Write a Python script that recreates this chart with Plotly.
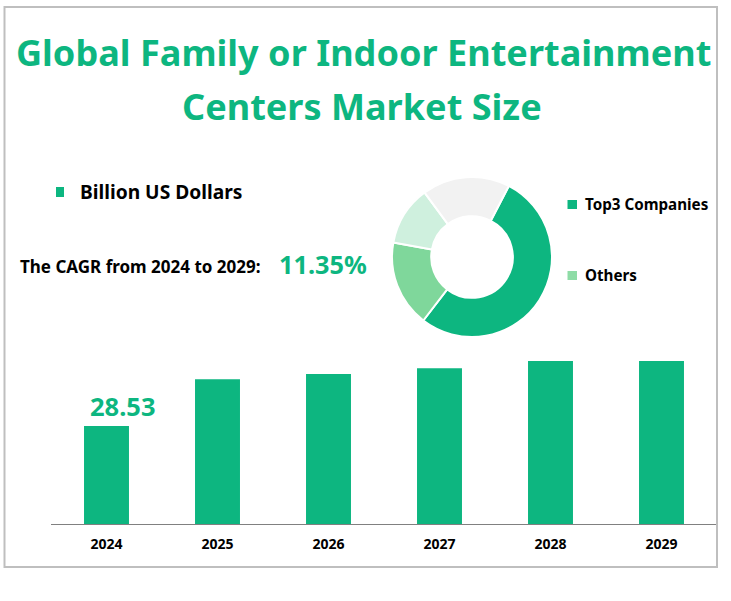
import plotly.graph_objects as go

W, H = 731, 601
GREEN = "#0DB680"
FONT = "Noto Sans"

years = ["2024", "2025", "2026", "2027", "2028", "2029"]
market_size = [28.53, 42.2, 43.7, 45.4, 47.5, 47.5]
share_labels = ["Top3 Companies", "Others", "Company C", "Company D"]
share_values = [52.8, 17.5, 12.0, 17.7]
share_colors = [GREEN, "#7FD79B", "#CFF0DE", "#F2F2F2"]
title_lines = ["Global Family or Indoor Entertainment", "Centers Market Size"]
series_name = "Billion US Dollars"
cagr_label = "The CAGR from 2024 to 2029:"
cagr_value = "11.35%"
watermark = "\u2002".join("贝哲斯咨询")
watermark_spots = [(211, 60), (536, 60), (206, 296), (536, 296), (204, 535), (529, 535)]


def px(x):
    return x / W


def py(y):
    return 1 - y / H


fig = go.Figure()
fig.add_trace(go.Bar(x=years, y=market_size, width=0.405, marker=dict(color=GREEN, line=dict(width=0)),
                     hoverinfo="x+y", showlegend=False))
fig.add_trace(go.Pie(labels=share_labels, values=share_values, hole=0.51, sort=False, direction="clockwise",
                     rotation=27.4, textinfo="none", showlegend=False,
                     marker=dict(colors=share_colors, line=dict(color="white", width=2)),
                     domain=dict(x=[px(392), px(552)], y=[py(337), py(177)])))


def note(text, x, y, size, color="black", bold=True, anchor="left"):
    fig.add_annotation(text=f"<b>{text}</b>" if bold else text, x=px(x), y=py(y), xref="paper", yref="paper",
                       showarrow=False, xanchor=anchor, yanchor="middle", align="center",
                       font=dict(family=FONT, size=size, color=color))


for wx, wy in watermark_spots:
    fig.add_annotation(text=watermark, x=px(wx), y=py(wy), xref="paper", yref="paper", showarrow=False,
                       xanchor="center", yanchor="middle", textangle=-17,
                       font=dict(family="Noto Sans CJK SC", size=31, color="rgba(0,0,0,0.022)"))

note(title_lines[0], 363, 52, 36.1, GREEN, anchor="center")
note(title_lines[1], 362, 106, 36.1, GREEN, anchor="center")
note(series_name, 78, 192, 19.2)
note(cagr_label, 18, 266, 17)
note(cagr_value, 277, 264, 25.3, GREEN)
note(share_labels[0], 583, 204, 15.2)
note(share_labels[1], 583, 275, 15.2)
fig.add_annotation(text=f"<b>{market_size[0]}</b>", x=0, y=market_size[0], xref="x", yref="y",
                   xshift=16, yshift=20, showarrow=False, font=dict(family=FONT, size=25.5, color=GREEN))

shapes = [
    dict(type="rect", xref="paper", yref="paper", x0=px(4.5), x1=px(717), y0=py(567), y1=py(7),
         line=dict(color="#BFBFBF", width=2), fillcolor="rgba(0,0,0,0)"),
    dict(type="rect", xref="paper", yref="paper", x0=px(56), x1=px(64), y0=py(197), y1=py(187),
         line=dict(width=0), fillcolor=GREEN),
    dict(type="rect", xref="paper", yref="paper", x0=px(567.5), x1=px(577), y0=py(209), y1=py(200),
         line=dict(width=0), fillcolor=GREEN),
    dict(type="rect", xref="paper", yref="paper", x0=px(567.5), x1=px(577), y0=py(280), y1=py(271),
         line=dict(width=0), fillcolor="#8EDCA6"),
]

fig.update_layout(
    width=W, height=H, margin=dict(l=0, r=0, t=0, b=0), autosize=False,
    paper_bgcolor="white", plot_bgcolor="white", shapes=shapes,
    xaxis=dict(domain=[px(51), px(717)], type="category", range=[-0.5, 5.5], automargin=False,
               showgrid=False, zeroline=False, showline=True,
               linecolor="#808080", linewidth=1, ticks="", ticklabelstandoff=7,
               tickfont=dict(family=FONT, size=14, color="black", weight="bold"), anchor="y"),
    yaxis=dict(domain=[py(524), py(361)], range=[0, 47.5], visible=False, fixedrange=True, automargin=False),
)
fig.write_html("out.html", post_script="document.body.style.margin='0';", config=dict(displayModeBar=False))
